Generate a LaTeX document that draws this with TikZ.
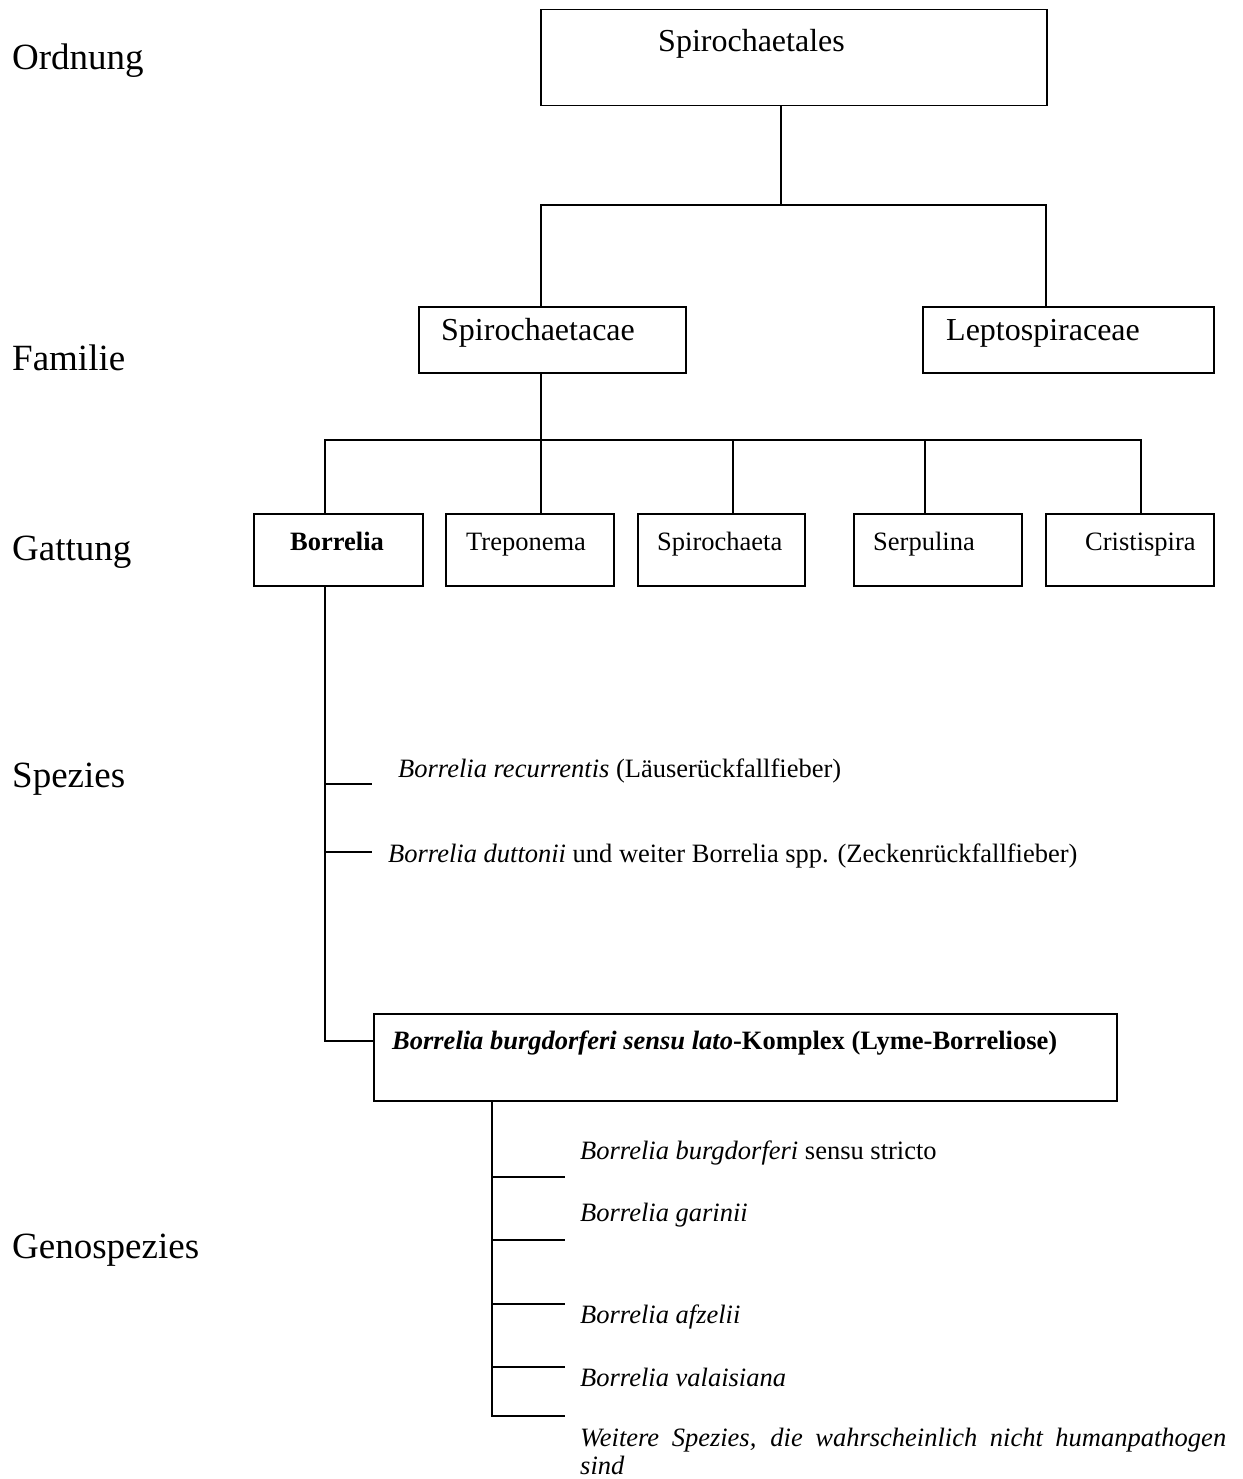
\documentclass[tikz,border=0pt]{standalone}
\usepackage{fontspec}
\setmainfont{Liberation Serif}
\begin{document}
\begin{tikzpicture}[x=1pt,y=-1pt,
  ln/.style={line width=1.5pt},
  box/.style={draw,line width=1.5pt,anchor=north west,inner sep=0pt},
  big/.style={anchor=base west,inner sep=0pt,font=\fontsize{37}{42}\selectfont},
  mid/.style={anchor=base west,inner sep=0pt,font=\fontsize{32}{36}\selectfont},
  sml/.style={anchor=base west,inner sep=0pt,font=\fontsize{26.5}{30}\selectfont}]
\useasboundingbox (0,0) rectangle (1242,1479);
% left labels
\node[big] (lOrd) at (12,70) {Ordnung};
\node[big] (lFam) at (12,370) {Familie};
\node[big] (lGat) at (12,560) {Gattung};
\node[big] (lSpe) at (12,787) {Spezies};
\node[big] (lGen) at (12,1258) {Genospezies};
% boxes
\node[box,minimum width=506pt,minimum height=96pt] (ord) at (540,9) {};
\node[box,minimum width=267pt,minimum height=66pt] (spc) at (418,306) {};
\node[box,minimum width=291pt,minimum height=66pt] (lep) at (922,306) {};
\node[box,minimum width=169pt,minimum height=72pt] (bor) at (253,513) {};
\node[box,minimum width=168pt,minimum height=72pt] (tre) at (445,513) {};
\node[box,minimum width=167pt,minimum height=72pt] (spi) at (637,513) {};
\node[box,minimum width=168pt,minimum height=72pt] (ser) at (853,513) {};
\node[box,minimum width=168pt,minimum height=72pt] (cri) at (1045,513) {};
\node[box,minimum width=743pt,minimum height=87pt] (lyme) at (373,1013) {};
% box texts
\node[mid] (tOrd) at (658,52) {Spirochaetales};
\node[mid] (tSpc) at (441,340) {Spirochaetacae};
\node[mid] (tLep) at (946,340) {Leptospiraceae};
\node[sml,font=\fontsize{26.5}{30}\selectfont\bfseries] (tBor) at (290,550) {Borrelia};
\node[sml] (tTre) at (466,550) {Treponema};
\node[sml] (tSpi) at (657,550) {Spirochaeta};
\node[sml] (tSer) at (873,550) {Serpulina};
\node[sml] (tCri) at (1085,550) {Cristispira};
\node[sml,font=\fontsize{26.5}{30}\selectfont\bfseries] (tLyme) at (392,1049) {\textit{Borrelia burgdorferi sensu lato}-Komplex (Lyme-Borreliose)};
% species texts
\node[sml] (sRec) at (398,777) {\textit{Borrelia recurrentis} (Läuserückfallfieber)};
\node[sml] (sDut) at (388,862) {\textit{Borrelia duttonii} und weiter Borrelia spp. (Zeckenrückfallfieber)};
\node[sml] (gBur) at (580,1159) {\textit{Borrelia burgdorferi} sensu stricto};
\node[sml] (gGar) at (580,1221) {\textit{Borrelia garinii}};
\node[sml] (gAfz) at (580,1323) {\textit{Borrelia afzelii}};
\node[sml] (gVal) at (580,1386) {\textit{Borrelia valaisiana}};
\node[sml] (gWe1) at (580,1446) {\makebox[646pt][s]{\itshape Weitere Spezies, die wahrscheinlich nicht humanpathogen}};
\node[sml] (gWe2) at (580,1474) {\textit{sind}};
% connectors level 1
\coordinate (h1M) at (781,205);
\coordinate (h1L) at (541,205);
\coordinate (h1R) at (1046,205);
\draw[ln] (ord.south -| h1M) -- (h1M);
\draw[ln] (spc.north -| h1L) -- (h1L) -- (h1R) -- (lep.north -| h1R);
% connectors level 2
\coordinate (h2M) at (541,440);
\coordinate (h2A) at (325,440);
\coordinate (h2C) at (733,440);
\coordinate (h2D) at (925,440);
\coordinate (h2E) at (1141,440);
\draw[ln] (spc.south -| h2M) -- (h2M);
\draw[ln] (bor.north -| h2A) -- (h2A) -- (h2E) -- (cri.north -| h2E);
\draw[ln] (h2M) -- (tre.north -| h2M);
\draw[ln] (h2C) -- (spi.north -| h2C);
\draw[ln] (h2D) -- (ser.north -| h2D);
% Borrelia species
\coordinate (v1) at (325,1041);
\coordinate (t1) at (372,784);
\coordinate (t2) at (372,852);
\draw[ln] (bor.south -| v1) -- (v1) -- (v1 -| lyme.west);
\draw[ln] (t1 -| v1) -- (t1);
\draw[ln] (t2 -| v1) -- (t2);
% Genospezies
\coordinate (v2) at (492,1416);
\coordinate (g1) at (565,1177);
\coordinate (g2) at (565,1240);
\coordinate (g3) at (565,1304);
\coordinate (g4) at (565,1367);
\coordinate (g5) at (565,1416);
\draw[ln] (lyme.south -| v2) -- (v2) -- (g5);
\draw[ln] (g1 -| v2) -- (g1);
\draw[ln] (g2 -| v2) -- (g2);
\draw[ln] (g3 -| v2) -- (g3);
\draw[ln] (g4 -| v2) -- (g4);
\end{tikzpicture}
\end{document}
